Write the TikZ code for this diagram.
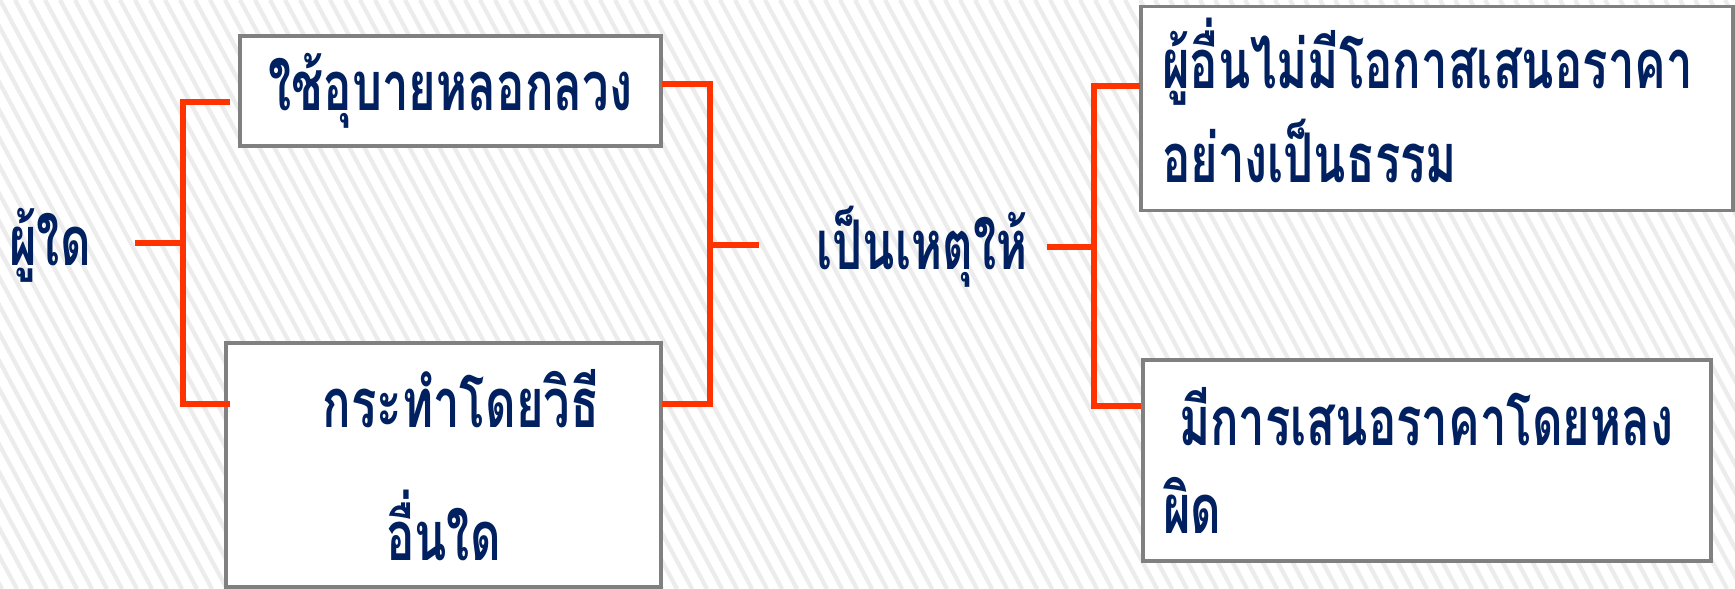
\documentclass[tikz,border=0pt]{standalone}
\usepackage{fontspec}
\newfontfamily\thaifont[Script=Thai,FakeStretch=0.69]{Loma}
\definecolor{thainavy}{RGB}{0,32,96}
\definecolor{bracered}{RGB}{255,51,0}
\definecolor{boxgrey}{RGB}{128,128,128}
\definecolor{stripegrey}{RGB}{236,236,236}

\begin{document}
\begin{tikzpicture}

%
% Styles
%
\tikzstyle{word} = [text=thainavy,font=\thaifont\bfseries\fontsize{19.5}{25}\selectfont]
\tikzstyle{block} = [word,rectangle,draw=boxgrey,line width=0.9pt,fill=white]
\tikzstyle{brace} = [draw=bracered,line width=1.7pt]

% striped background
\useasboundingbox (0,0) rectangle (17.35,5.89);
\fill[white] (0,0) rectangle (17.35,5.89);
\begin{scope}
\clip (0,0) rectangle (17.35,5.89);
\foreach \x in {-3.30,-3.15,...,17.40}
  \draw[stripegrey,line width=1.2pt] (\x,5.89) -- ++(3.17,-5.89);
\end{scope}

\node[word] (anyone) at (0.50,3.44) {ผู้ใด};
\node[block,minimum width=4.21cm,minimum height=1.10cm] (usebox) at (4.505,4.98) {ใช้อุบายหลอกลวง};
\node[block,text width=3.95cm,inner xsep=0.20cm,minimum height=2.44cm,align=center] (otherbox) at (4.435,1.24)
  {\hspace*{0.35cm}กระทำโดยวิธี\\[0.45cm]อื่นใด};
\node[word] (cause) at (9.22,3.42) {เป็นเหตุให้};
\node[block,text width=5.50cm,inner xsep=0.21cm,minimum height=1.99cm,align=left] (unfairbox) at (14.37,4.805)
  {ผู้อื่นไม่มีโอกาสเสนอราคา\\[0.06cm]อย่างเป็นธรรม\par\vspace*{0.16cm}};
\node[block,text width=5.28cm,inner xsep=0.20cm,minimum height=2.01cm,align=left] (wrongbox) at (14.27,1.285)
  {\hspace*{0.16cm}มีการเสนอราคาโดยหลง\\ผิด};

% left bracket
\coordinate (anyoneout) at (1.35,3.46);
\coordinate (ljoin) at (1.83,3.46);
\coordinate (usein) at (2.30,4.87);
\coordinate (otherin) at (2.30,1.85);
\draw[brace] (anyoneout) -- (ljoin);
\draw[brace] (usein) -| (ljoin) |- (otherin);

% middle bracket
\coordinate (useout) at (6.62,5.05);
\coordinate (otherout) at (6.62,1.85);
\coordinate (mjoin) at (7.10,3.44);
\coordinate (causein) at (7.59,3.44);
\draw[brace] (useout) -| (mjoin) |- (otherout);
\draw[brace] (mjoin) -- (causein);

% right bracket
\coordinate (causeout) at (10.47,3.42);
\coordinate (rjoin) at (10.94,3.42);
\coordinate (unfairin) at (11.40,5.03);
\coordinate (wrongin) at (11.41,1.83);
\draw[brace] (causeout) -- (rjoin);
\draw[brace] (unfairin) -| (rjoin) |- (wrongin);

\end{tikzpicture}
\end{document}
